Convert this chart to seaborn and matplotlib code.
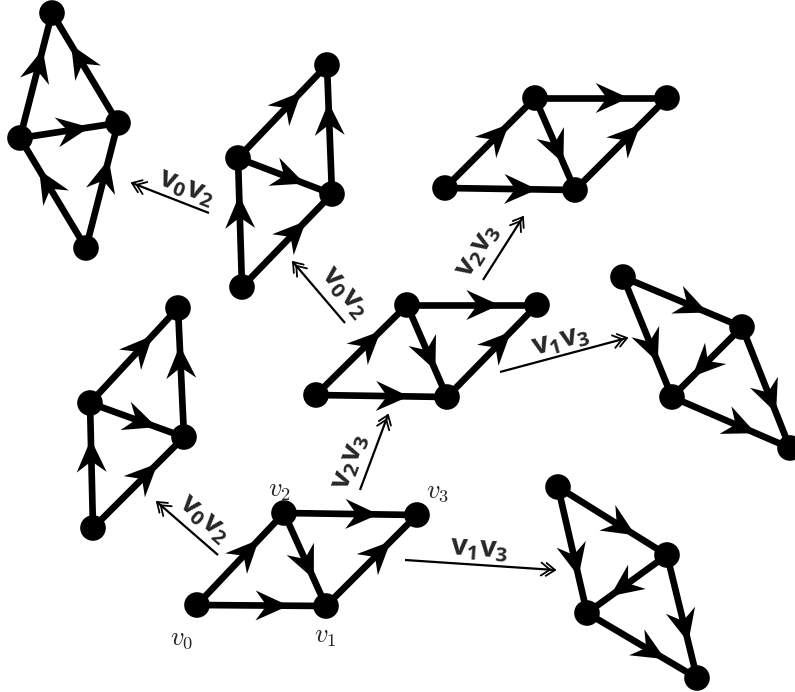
import numpy as np
import pandas as pd
import seaborn as sns
from matplotlib import pyplot as plt

sns.set_theme(style='white')
plt.rcParams['mathtext.fontset'] = 'cm'
# bold sans for the move labels (used through math_fontfamily='custom')
plt.rcParams['mathtext.rm'] = 'Open Sans:bold'
plt.rcParams['mathtext.it'] = 'Open Sans:bold'
plt.rcParams['mathtext.bf'] = 'Open Sans:bold'

# vertex positions of every complex, in picture pixels (y grows downwards)
start_pos = [(197, 605), (326, 606), (284, 513), (417, 515)]      # v0 v1 v2 v3
middle_pos = [(316, 395), (447, 397), (407, 305), (537, 305)]
upper_pos = [(445, 188), (575, 190), (535, 98), (667, 98)]
far_left_pos = [(52, 13), (20, 138), (118, 123), (86, 248)]       # top left right bottom
upper_left_pos = [(327, 65), (238, 158), (332, 194), (242, 287)]
left_pos = [(178, 308), (90, 403), (184, 437), (93, 528)]
right_pos = [(623, 277), (742, 327), (672, 397), (790, 448)]      # top right left bottom
lower_right_pos = [(558, 487), (667, 555), (587, 613), (697, 678)]

flat_edges = [(0, 1), (0, 2), (2, 3), (2, 1), (1, 3)]
tall_edges = [(1, 0), (2, 0), (1, 2), (3, 1), (3, 2)]
kite_edges = [(0, 1), (0, 2), (1, 2), (1, 3), (2, 3)]

complexes = [
    (start_pos, flat_edges), (middle_pos, flat_edges), (upper_pos, flat_edges),
    (far_left_pos, tall_edges), (upper_left_pos, tall_edges), (left_pos, tall_edges),
    (right_pos, kite_edges), (lower_right_pos, kite_edges),
]

vertex_names = [r'$v_0$', r'$v_1$', r'$v_2$', r'$v_3$']
vertex_label_pos = [(182, 638), (325, 636), (280, 490), (438, 491)]

# the flip moves between complexes
move_tail = [(218, 555), (360, 490), (405, 560), (345, 323), (483, 280), (500, 372), (209, 213)]
move_head = [(157, 502), (388, 415), (555, 570), (293, 262), (523, 217), (627, 338), (132, 183)]
move_names = ['v_0v_2', 'v_2v_3', 'v_1v_3', 'v_0v_2', 'v_2v_3', 'v_1v_3', 'v_0v_2']
move_label_pos = [(204, 519), (350, 462), (479, 549), (345, 292), (478, 251), (561, 341), (186, 188)]


def stealth(ax, p, q, t=0.71, length=33, half=15, notch=11):
    p, q = np.array(p, float), np.array(q, float)
    d = (q - p) / np.linalg.norm(q - p)
    n = np.array([-d[1], d[0]])
    tip = p + t * (q - p)
    back = tip - length * d
    pts = np.array([tip, back + half * n, tip - (length - notch) * d, back - half * n])
    ax.fill(pts[:, 0], pts[:, 1], color='black', lw=0, zorder=3)


def double_head(ax, tail, head, arm=11, ang=36, gap=5):
    tail, head = np.array(tail, float), np.array(head, float)
    ax.plot([tail[0], head[0]], [tail[1], head[1]], color='black', lw=1.6,
            solid_capstyle='butt', zorder=2)
    d = (head - tail) / np.linalg.norm(head - tail)
    a = np.radians(ang)
    for k in range(2):
        tip = head - k * gap * d
        for s in (1, -1):
            c, sn = np.cos(s * a), np.sin(s * a)
            r = np.array([c * -d[0] - sn * -d[1], sn * -d[0] + c * -d[1]])
            end = tip + arm * r
            ax.plot([tip[0], end[0]], [tip[1], end[1]], color='black', lw=1.3,
                    solid_capstyle='round', zorder=2)


fig = plt.figure(figsize=(7.95, 6.92), dpi=100)
ax = fig.add_axes([0, 0, 1, 1])

rows = []
for pos, edges in complexes:
    for i, j in edges:
        (x0, y0), (x1, y1) = pos[i], pos[j]
        ax.plot([x0, x1], [y0, y1], color='black', lw=4.8, solid_capstyle='round', zorder=2)
        stealth(ax, pos[i], pos[j])
    rows += [{'x': x, 'y': y} for x, y in pos]

nodes = pd.DataFrame(rows)
sns.scatterplot(data=nodes, x='x', y='y', s=340, color='black', edgecolor='none',
                ax=ax, zorder=4, legend=False)

for name, (x, y) in zip(vertex_names, vertex_label_pos):
    ax.text(x, y, name, fontsize=19, ha='center', va='center', math_fontfamily='cm')

for tail, head, name, (x, y) in zip(move_tail, move_head, move_names, move_label_pos):
    double_head(ax, tail, head)
    ang = np.degrees(np.arctan2(-(head[1] - tail[1]), head[0] - tail[0]))
    if ang > 90:
        ang -= 180
    elif ang < -90:
        ang += 180
    ax.text(x, y, '$' + name + '$', fontsize=21, rotation=ang, rotation_mode='anchor',
            ha='center', va='center', math_fontfamily='custom')

ax.set_xlim(0, 795)
ax.set_ylim(692, 0)
ax.axis('off')
plt.savefig('out.png', dpi=100)
